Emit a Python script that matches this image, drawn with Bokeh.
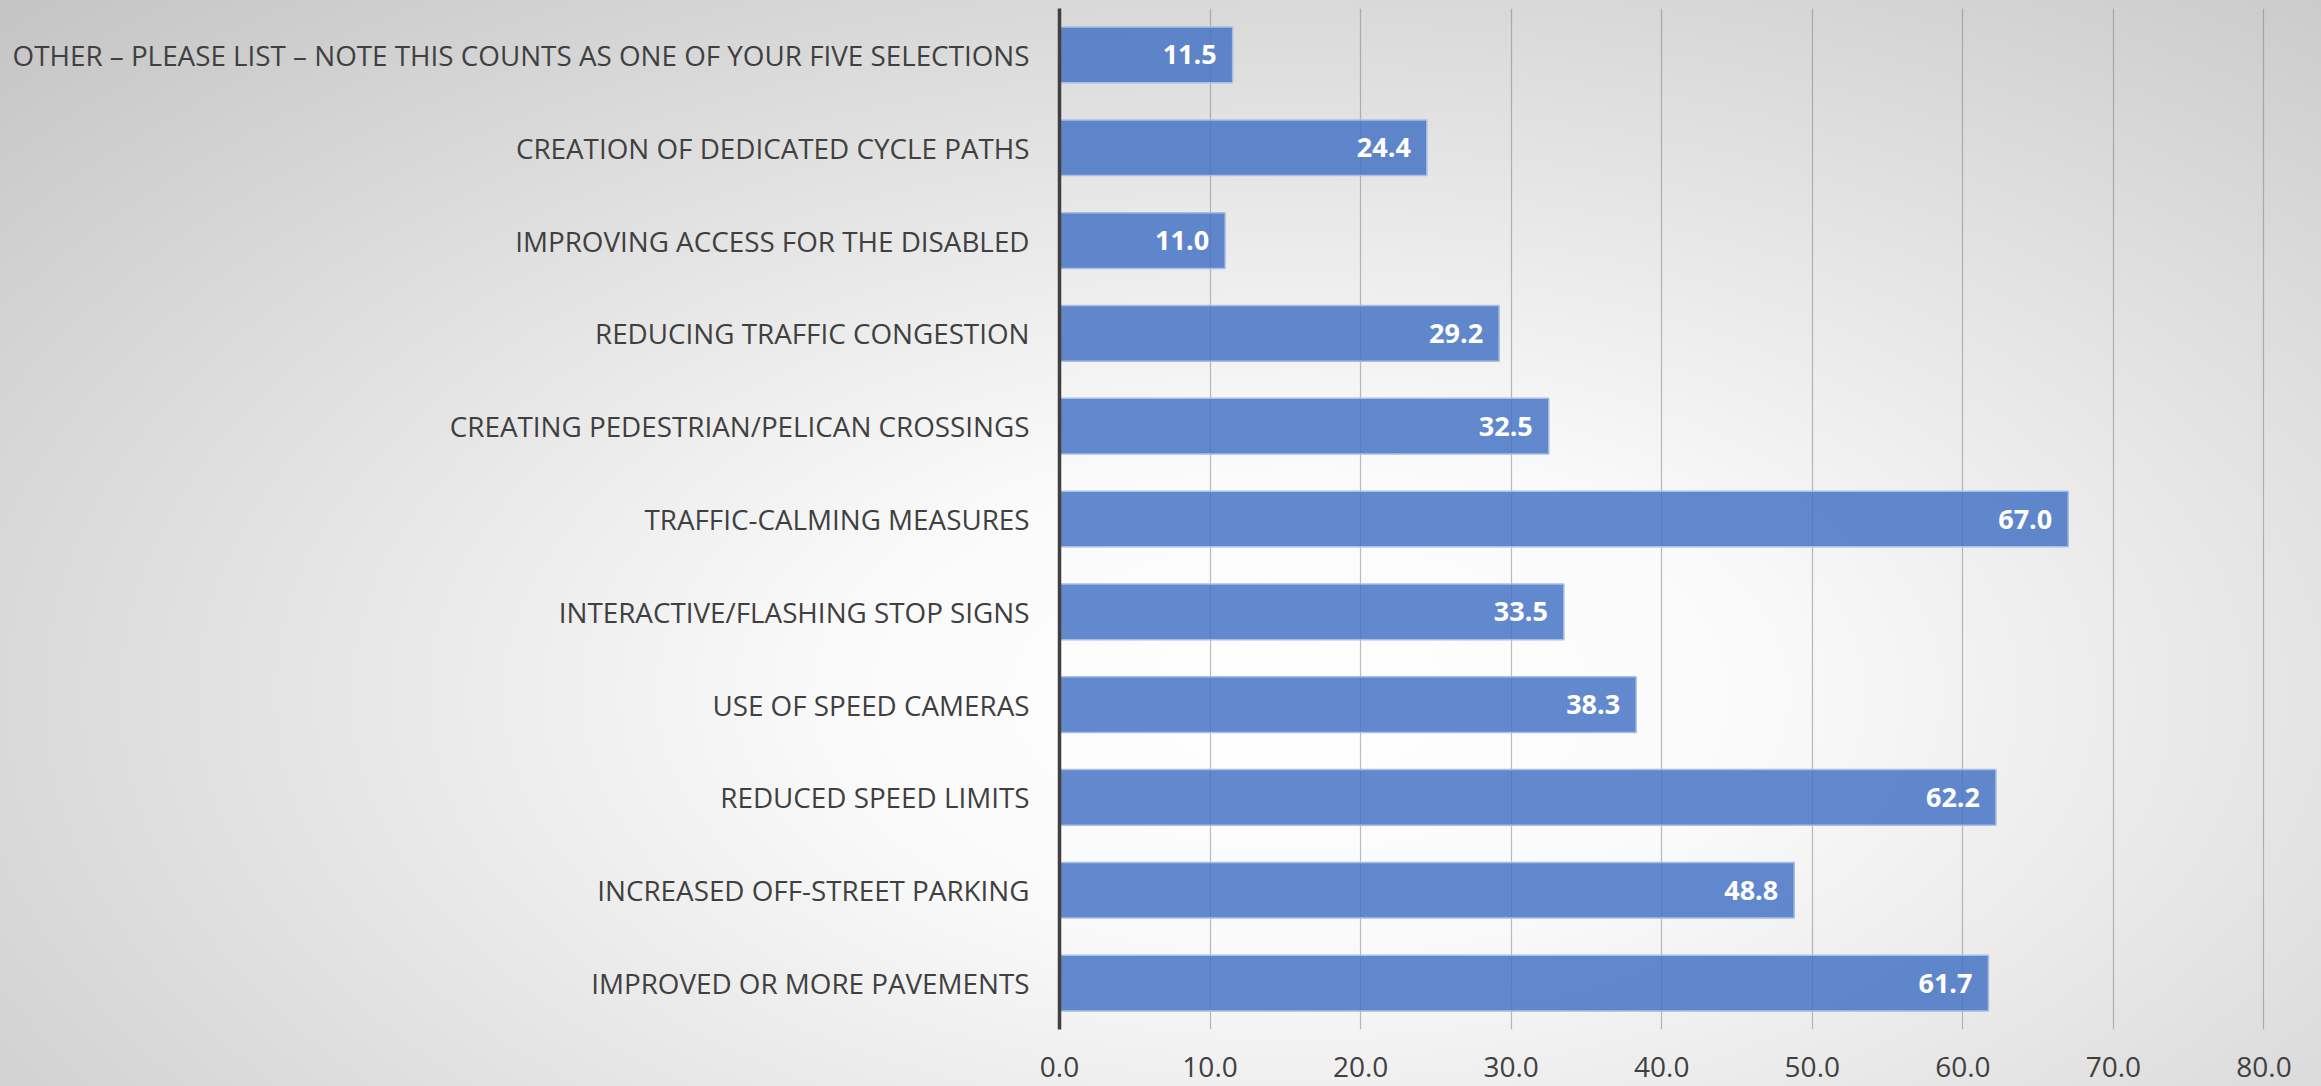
from bokeh.plotting import figure
from bokeh.models import ColumnDataSource, FactorRange, LabelSet, NumeralTickFormatter, FixedTicker
from bokeh.core.properties import value
from bokeh.embed import file_html
from bokeh.resources import INLINE

categories = [
    "OTHER – PLEASE LIST – NOTE THIS COUNTS AS ONE OF YOUR FIVE SELECTIONS",
    "CREATION OF DEDICATED CYCLE PATHS",
    "IMPROVING ACCESS FOR THE DISABLED",
    "REDUCING TRAFFIC CONGESTION",
    "CREATING PEDESTRIAN/PELICAN CROSSINGS",
    "TRAFFIC-CALMING MEASURES",
    "INTERACTIVE/FLASHING STOP SIGNS",
    "USE OF SPEED CAMERAS",
    "REDUCED SPEED LIMITS",
    "INCREASED OFF-STREET PARKING",
    "IMPROVED OR MORE PAVEMENTS",
]
values = [11.5, 24.4, 11.0, 29.2, 32.5, 67.0, 33.5, 38.3, 62.2, 48.8, 61.7]
x_ticks = [0, 10, 20, 30, 40, 50, 60, 70, 80]

src = ColumnDataSource(dict(cat=categories, val=values, lab=[f"{v:.1f}" for v in values]))

p = figure(
    width=2321, height=1086,
    y_range=FactorRange(factors=list(reversed(categories)), range_padding=0),
    x_range=(0, 80.3),
    output_backend="svg", toolbar_location=None,
    min_border_left=1059, min_border_right=53, min_border_top=8, min_border_bottom=57,
)
p.border_fill_alpha = 0
p.background_fill_alpha = 0
p.outline_line_color = None
p.styles = {"background": "radial-gradient(ellipse farthest-corner at 56% 64%, #ffffff 0%, #fafafa 25%, #c4c4c4 100%)"}

p.xgrid.ticker = FixedTicker(ticks=x_ticks)
p.xgrid.grid_line_color = "#7a7a7a"
p.xgrid.grid_line_alpha = 0.5
p.xgrid.grid_line_width = 1.2
p.ygrid.grid_line_color = None

p.hbar(y="cat", right="val", left=0, height=0.60, source=src,
       fill_color="#4472C4", fill_alpha=0.84, line_color="#A8BEE6", line_width=1.5)

labels = LabelSet(x="val", y="cat", text="lab", source=src, x_offset=-16,
                  text_align="right", text_baseline="middle", text_color="white",
                  text_font=value("Open Sans"), text_font_style="bold", text_font_size="27px")
p.add_layout(labels)

p.xaxis.ticker = FixedTicker(ticks=x_ticks)
p.xaxis.formatter = NumeralTickFormatter(format="0.0")
p.xaxis.axis_line_color = None
p.xaxis.major_tick_line_color = None
p.xaxis.minor_tick_line_color = None
p.xaxis.major_label_text_font = "Open Sans"
p.xaxis.major_label_text_font_size = "28px"
p.xaxis.major_label_text_color = "#404040"
p.xaxis.major_label_standoff = 21

p.yaxis.axis_line_color = "#404040"
p.yaxis.axis_line_width = 3.5
p.yaxis.major_tick_line_color = None
p.yaxis.minor_tick_line_color = None
p.yaxis.major_label_text_font = "Open Sans"
p.yaxis.major_label_text_font_size = "27.8px"
p.yaxis.major_label_text_color = "#404040"
p.yaxis.major_label_standoff = 24

open("out.html", "w").write(file_html(p, INLINE))
